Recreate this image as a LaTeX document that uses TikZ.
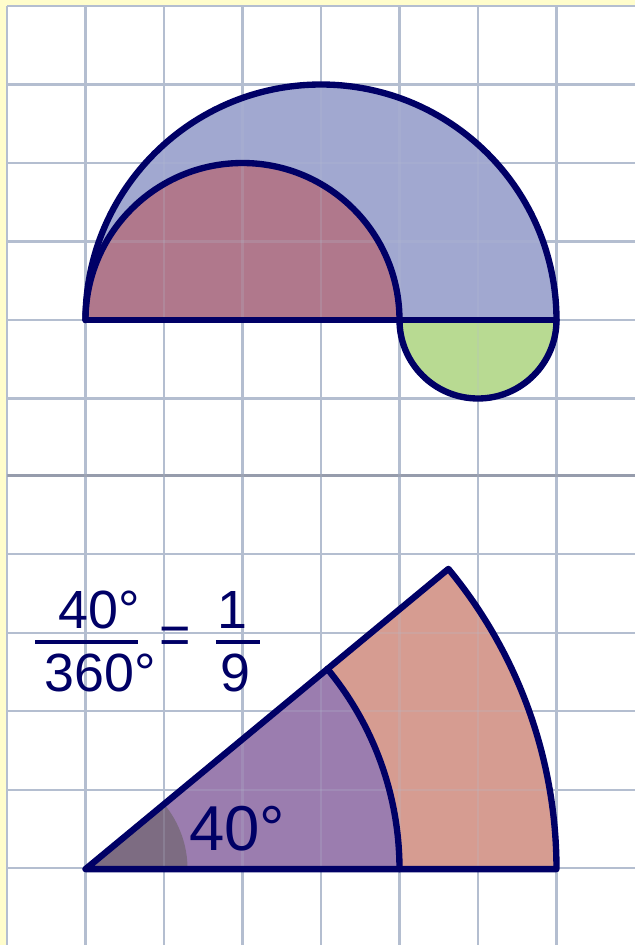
\documentclass[tikz,border=0pt]{standalone}
\usepackage{fontspec}
\setmainfont{Liberation Sans}
\usetikzlibrary{calc}
\definecolor{yellowbg}{RGB}{255,253,204}
\definecolor{gridc}{RGB}{180,190,208}
\definecolor{divc}{RGB}{150,156,172}
\definecolor{navy}{RGB}{0,0,102}
\definecolor{bluef}{RGB}{161,168,208}
\definecolor{redf}{RGB}{176,120,140}
\definecolor{greenf}{RGB}{184,218,146}
\definecolor{purplef}{RGB}{155,125,175}
\definecolor{salmonf}{RGB}{214,156,145}
\definecolor{anglef}{RGB}{125,108,130}
\tikzset{
  gridline/.style={draw=gridc, line width=0.85pt},
  outline/.style={draw=navy, line width=2.3pt, line join=round, line cap=round},
  fracbar/.style={draw=navy, line width=1.6pt},
  txt/.style={text=navy, inner sep=0pt, font=\fontsize{19.5}{21}\selectfont},
  bigtxt/.style={text=navy, inner sep=0pt, font=\fontsize{23}{25}\selectfont}
}
\begin{document}
\begin{tikzpicture}[x=1cm,y=1cm]
\useasboundingbox (-0.0892,0.0764) rectangle (8,-11.962);
\fill[yellowbg] (-0.0892,0.0764) rectangle (8,-11.962);
\fill[white] (0,0) rectangle (8,-11.962);
% grid
\newcommand{\drawgrid}{%
  \foreach \i in {0,...,7} {\draw[gridline] (\i,0) -- (\i,-11.962);}
  \foreach \j in {0,...,5} {\draw[gridline] (0,-\j) -- (8,-\j);}
  \foreach \j in {1,...,5} {\draw[gridline] (0,-5.985-\j) -- (8,-5.985-\j);}
}
\drawgrid
\draw[draw=divc, line width=1pt] (0,-5.985) -- (8,-5.985);
% upper figure
\coordinate (L) at (1,-4);
\coordinate (M) at (5,-4);
\coordinate (R) at (7,-4);
\fill[bluef] (L) arc (180:0:3) -- cycle;
\fill[redf] (L) arc (180:0:2) -- cycle;
\fill[greenf] (M) arc (180:360:1) -- cycle;
% lower figure
\coordinate (V) at (1,-10.995);
\coordinate (V4) at (5,-10.995);
\fill[salmonf] (V) -- ++(6,0) arc (0:39.6:6) -- cycle;
\fill[purplef] (V) -- ++(4,0) arc (0:39.6:4) -- cycle;
\fill[anglef] (V) -- ++(1.3,0) arc (0:39.6:1.3) -- cycle;
% grid seen through the fills
\begin{scope}[opacity=0.22]
\drawgrid
\end{scope}
% outlines
\draw[outline] (L) arc (180:0:3);
\draw[outline] (L) arc (180:0:2);
\draw[outline] (M) arc (180:360:1);
\draw[outline] (L) -- (R);
\draw[outline] (V) -- ++(6,0) arc (0:39.6:6) -- cycle;
\draw[outline] (V4) arc (0:39.6:4);
% texts
\node[bigtxt] (ang) at (2.93,-10.484) {40°};
\node[txt] (num) at (1.172,-7.694) {40°};
\node[txt] (den) at (1.185,-8.497) {360°};
\node[txt] (eq) at (2.146,-8.075) {=};
\node[txt] (one) at (2.873,-7.694) {1};
\node[txt] (nine) at (2.911,-8.497) {9};
\draw[fracbar] (0.357,-8.102) -- (1.669,-8.102);
\draw[fracbar] (2.662,-8.102) -- (3.223,-8.102);
\end{tikzpicture}
\end{document}
